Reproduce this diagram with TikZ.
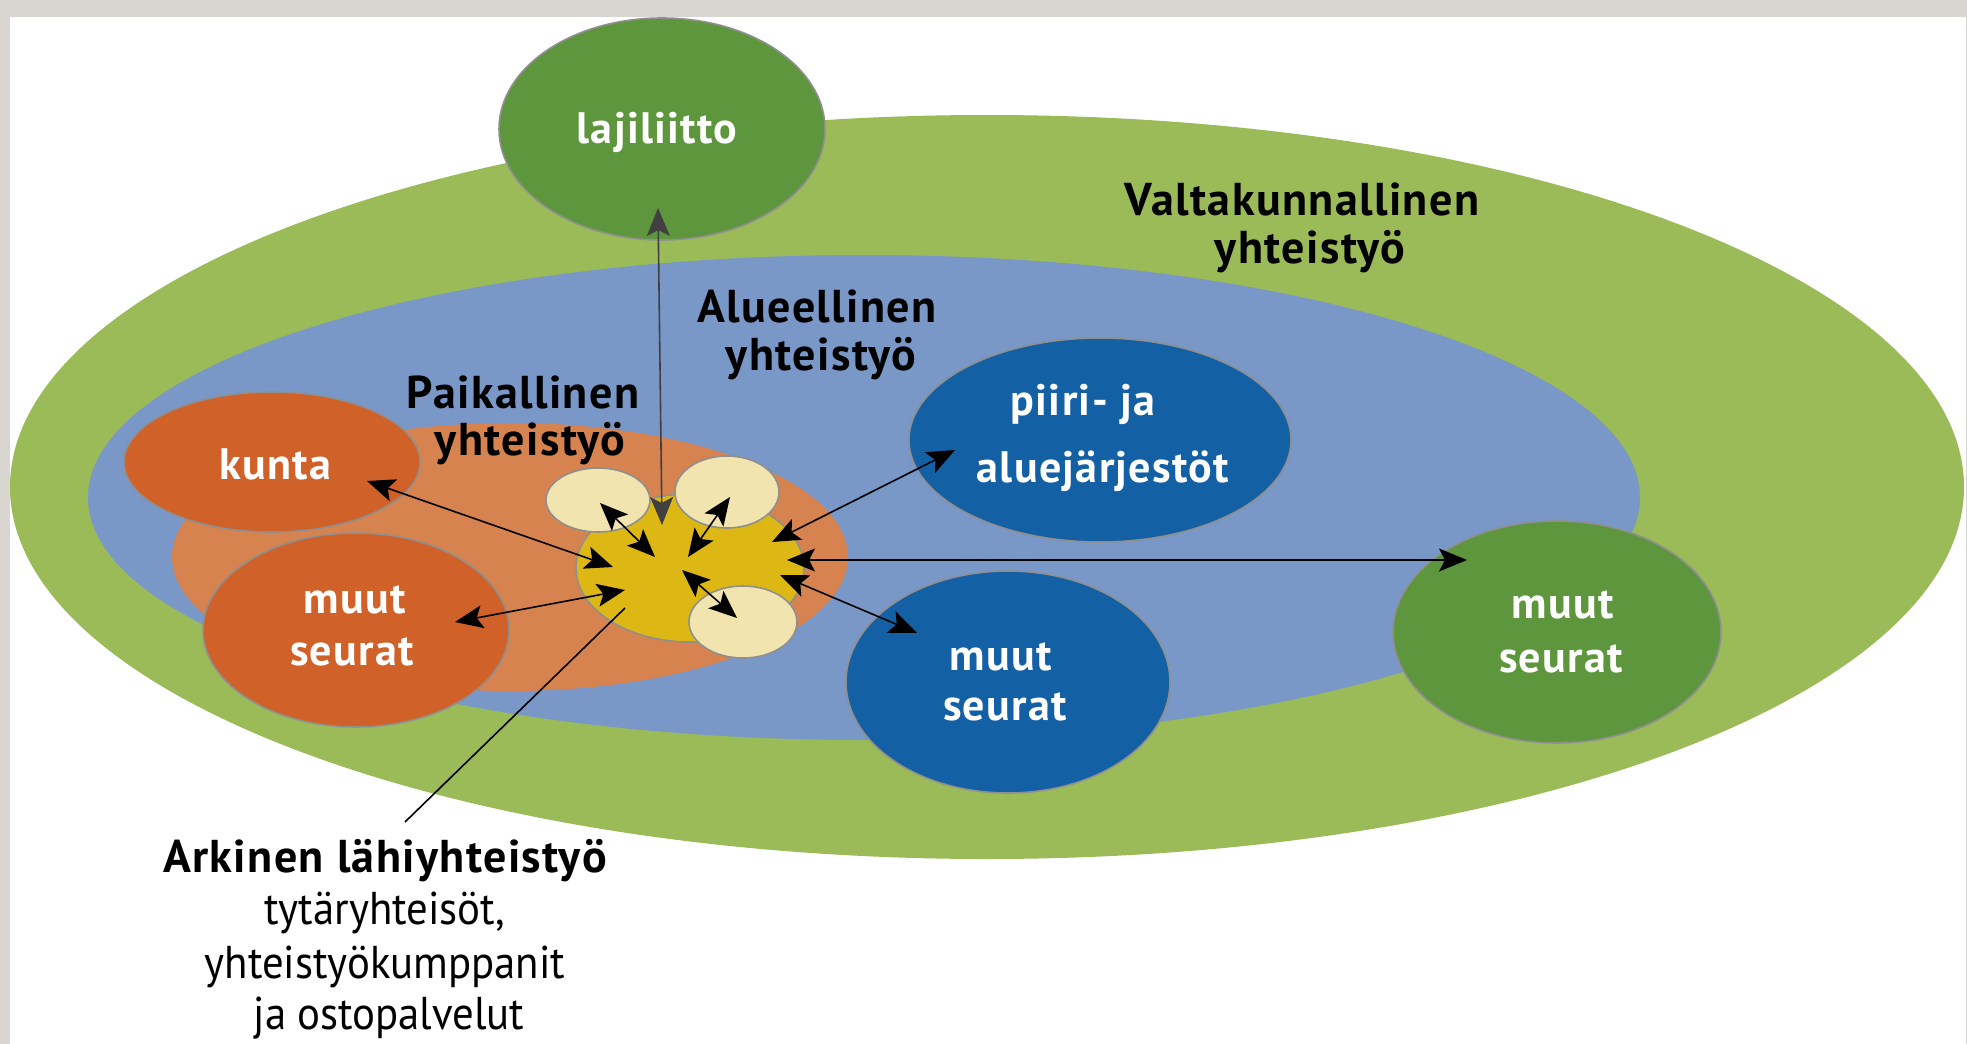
\documentclass[tikz,border=0pt]{standalone}
\usepackage{fontspec}
\setmainfont{PT Sans}[LetterSpace=3]
\newfontfamily\notefont{PT Sans}[FakeStretch=0.93]
\usetikzlibrary{shapes.geometric,arrows.meta}
\definecolor{pagegray}{HTML}{D9D6D1}
\definecolor{biggreen}{HTML}{9BBB59}
\definecolor{darkgreen}{HTML}{5E963E}
\definecolor{bigblue}{HTML}{7997C7}
\definecolor{darkblue}{HTML}{1460A5}
\definecolor{bigorange}{HTML}{D7834F}
\definecolor{darkorange}{HTML}{CF6129}
\definecolor{coreyellow}{HTML}{DDB815}
\definecolor{cream}{HTML}{F2E4AE}
\definecolor{edgegray}{HTML}{8F8F8F}
\begin{document}
\begin{tikzpicture}[x=0.5pt,y=-0.5pt,
  area/.style={ellipse, inner sep=0pt, outer sep=0pt},
  bubble/.style={ellipse, inner sep=0pt, draw=edgegray, line width=0.8pt},
  lbl/.style={font=\fontsize{23}{23}\selectfont\bfseries, text=black, anchor=base, inner sep=0pt},
  wlbl/.style={font=\fontsize{22}{22}\selectfont\bfseries, text=white, anchor=base, inner sep=0pt},
  note/.style={font=\fontsize{23}{23}\notefont, text=black, anchor=base, inner sep=0pt},
  tip/.tip={Stealth[length=14pt,width=11.5pt,inset=3pt]},
  link/.style={line width=0.8pt, draw=black, tip-tip},
  plainlink/.style={line width=0.8pt, draw=black},
]
\useasboundingbox (0,0) rectangle (1967,1044);
\fill[pagegray] (0,0) rectangle (1967,1044);
\fill[white] (10,17) rectangle (1966,1044);

% nested areas
\node[area, fill=biggreen, minimum width=977pt, minimum height=372pt] (valta) at (987,487) {};
\node[area, fill=bigblue, minimum width=776pt, minimum height=242.5pt] (alue) at (864,497.5) {};
\node[area, fill=bigorange, minimum width=338pt, minimum height=134pt] (paik) at (510,557) {};

% bubbles
\node[bubble, fill=darkgreen, minimum width=163pt, minimum height=111pt] (laji) at (662,129) {};
\node[bubble, fill=darkorange, minimum width=148pt, minimum height=70pt] (kunta) at (272,462) {};
\node[bubble, fill=darkorange, minimum width=153pt, minimum height=97pt] (muutO) at (356,630) {};
\node[bubble, fill=darkblue, minimum width=191pt, minimum height=102pt] (piiri) at (1100,440) {};
\node[bubble, fill=darkblue, minimum width=162pt, minimum height=111pt] (muutB) at (1008,682) {};
\node[bubble, fill=darkgreen, minimum width=164pt, minimum height=111pt] (muutG) at (1557,632) {};
\node[bubble, fill=coreyellow, minimum width=114pt, minimum height=74pt] (core) at (690,568) {};
\node[bubble, fill=cream, minimum width=52pt, minimum height=32pt] (c1) at (598,500) {};
\node[bubble, fill=cream, minimum width=52pt, minimum height=36pt] (c2) at (727,492) {};
\node[bubble, fill=cream, minimum width=54pt, minimum height=36pt] (c3) at (743,622) {};

% labels
\node[wlbl] (tLaji) at (657,143) {lajiliitto};
\node[lbl] (tValta1) at (1302,215) {Valtakunnallinen};
\node[lbl] (tValta2) at (1310,263) {yhteistyö};
\node[lbl] (tAlue1) at (817,322) {Alueellinen};
\node[lbl] (tAlue2) at (821,370) {yhteistyö};
\node[lbl] (tPaik1) at (523,408) {Paikallinen};
\node[lbl] (tPaik2) at (530,455) {yhteistyö};
\node[wlbl] (tKunta) at (275,479) {kunta};
\node[wlbl] (tMO1) at (355,613) {muut};
\node[wlbl] (tMO2) at (352,665) {seurat};
\node[wlbl] (tPiiri1) at (1083,415) {piiri- ja};
\node[wlbl] (tPiiri2) at (1103,482) {aluejärjestöt};
\node[wlbl] (tMB1) at (1001,670) {muut};
\node[wlbl] (tMB2) at (1005,720) {seurat};
\node[wlbl] (tMG1) at (1563,618) {muut};
\node[wlbl] (tMG2) at (1561,672) {seurat};
\node[lbl] (tArk) at (385,872) {Arkinen lähiyhteistyö};
\node[note] (tArk2) at (385,924) {tytäryhteisöt,};
\node[note] (tArk3) at (385,978) {yhteistyökumppanit};
\node[note] (tArk4) at (389,1029) {ja ostopalvelut};

% connector ends
\coordinate (pLaji) at (658,208);
\coordinate (qLaji) at (662,525);
\coordinate (pKunta) at (367,481);
\coordinate (qKunta) at (613,567);
\coordinate (pMO) at (455,622);
\coordinate (qMO) at (625,590);
\coordinate (pC1) at (600,503);
\coordinate (qC1) at (655,557);
\coordinate (pC2) at (730,497);
\coordinate (qC2) at (688,557);
\coordinate (pC3) at (737,618);
\coordinate (qC3) at (682,570);
\coordinate (pPiiri) at (955,450);
\coordinate (qPiiri) at (772,542);
\coordinate (pMG) at (1467,560);
\coordinate (qMG) at (787,560);
\coordinate (pMB) at (917,633);
\coordinate (qMB) at (780,575);
\coordinate (pArk) at (405,822);
\coordinate (qArk) at (625,608);

\draw[link, draw=black!75] (qLaji) -- (pLaji);
\draw[link] (qKunta) -- (pKunta);
\draw[link] (qMO) -- (pMO);
\draw[link] (qC1) -- (pC1);
\draw[link] (qC2) -- (pC2);
\draw[link] (qC3) -- (pC3);
\draw[link] (qPiiri) -- (pPiiri);
\draw[link] (qMG) -- (pMG);
\draw[link] (qMB) -- (pMB);
\draw[plainlink] (pArk) -- (qArk);
\end{tikzpicture}
\end{document}
